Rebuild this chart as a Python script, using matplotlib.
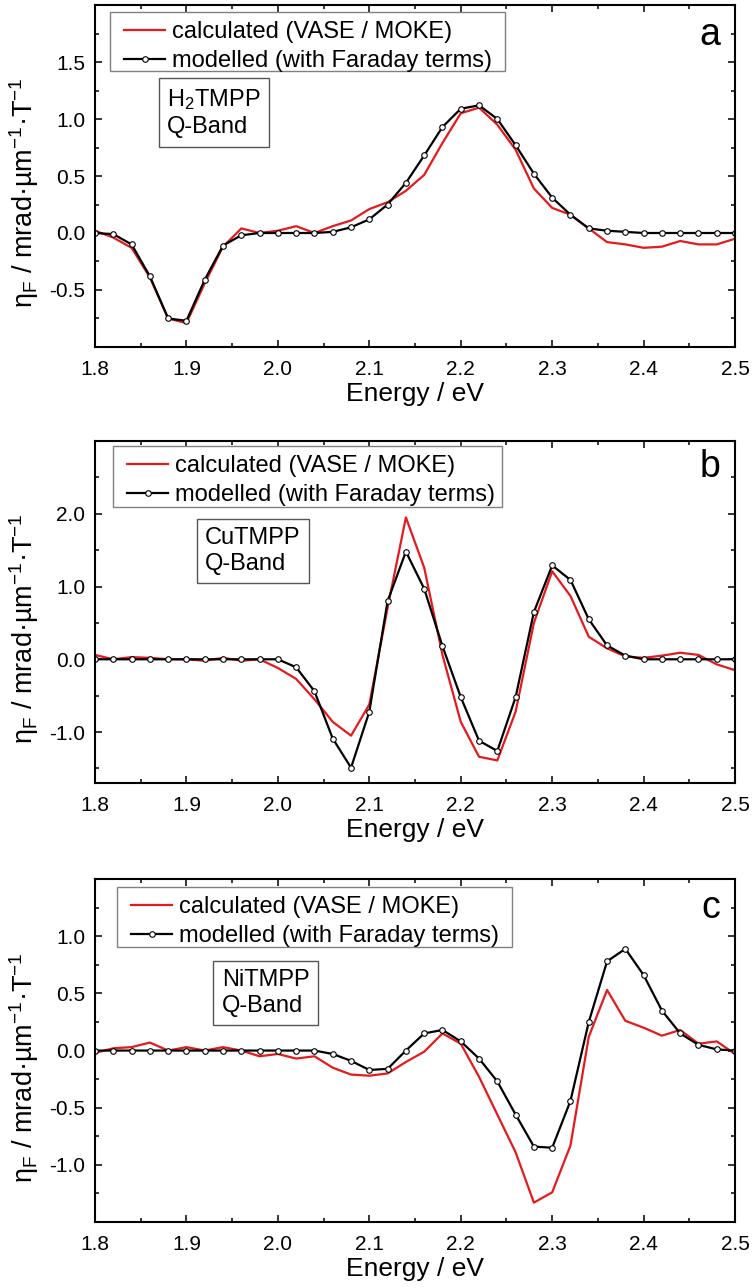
import matplotlib
matplotlib.use('Agg')
import matplotlib.pyplot as plt
from matplotlib.patches import Rectangle
from matplotlib.ticker import MultipleLocator

plt.rcParams['font.family'] = ['Liberation Sans', 'DejaVu Sans']
plt.rcParams['mathtext.fontset'] = 'custom'
plt.rcParams['mathtext.rm'] = 'Liberation Sans'
plt.rcParams['mathtext.it'] = 'Liberation Sans:italic'

## photon energy grid (eV)
energy = [1.80, 1.82, 1.84, 1.86, 1.88, 1.90, 1.92, 1.94, 1.96, 1.98,
          2.00, 2.02, 2.04, 2.06, 2.08, 2.10, 2.12, 2.14, 2.16, 2.18,
          2.20, 2.22, 2.24, 2.26, 2.28, 2.30, 2.32, 2.34, 2.36, 2.38,
          2.40, 2.42, 2.44, 2.46, 2.48, 2.50]

## panel a: H2TMPP
h2_calc = [0.02, -0.04, -0.13, -0.39, -0.75, -0.79, -0.44, -0.12, 0.04, 0.0,
           0.02, 0.06, 0.0, 0.06, 0.11, 0.21, 0.27, 0.37, 0.51, 0.79,
           1.05, 1.10, 0.95, 0.73, 0.39, 0.22, 0.16, 0.04, -0.08, -0.10,
           -0.13, -0.12, -0.07, -0.10, -0.10, -0.05]
h2_model = [0.0, -0.01, -0.10, -0.38, -0.75, -0.77, -0.41, -0.11, -0.02, 0.0,
            0.0, 0.0, 0.0, 0.01, 0.05, 0.12, 0.25, 0.44, 0.68, 0.93,
            1.09, 1.12, 1.00, 0.77, 0.52, 0.31, 0.16, 0.04, 0.02, 0.01,
            0.0, 0.0, 0.0, 0.0, 0.0, 0.0]

## panel b: CuTMPP
cu_calc = [0.06, 0.0, 0.03, 0.02, 0.0, 0.0, -0.02, 0.02, -0.02, 0.0,
           -0.12, -0.27, -0.55, -0.86, -1.05, -0.62, 0.71, 1.95, 1.26, 0.06,
           -0.86, -1.34, -1.39, -0.72, 0.50, 1.21, 0.87, 0.31, 0.15, 0.04,
           0.02, 0.05, 0.09, 0.06, -0.07, -0.15]
cu_model = [0.0, 0.0, 0.0, 0.0, 0.0, 0.0, 0.0, 0.0, 0.0, 0.0,
            0.0, -0.11, -0.44, -1.09, -1.49, -0.72, 0.80, 1.48, 0.97, 0.18,
            -0.52, -1.12, -1.26, -0.52, 0.65, 1.29, 1.09, 0.55, 0.19, 0.05,
            0.0, 0.0, 0.0, 0.0, 0.0, 0.0]

## panel c: NiTMPP
ni_calc = [-0.02, 0.02, 0.03, 0.07, 0.0, 0.03, 0.0, 0.03, 0.0, -0.05,
           -0.03, -0.07, -0.05, -0.15, -0.21, -0.22, -0.20, -0.10, -0.01, 0.15,
           0.06, -0.23, -0.56, -0.89, -1.33, -1.24, -0.83, 0.12, 0.53, 0.26,
           0.20, 0.13, 0.18, 0.06, 0.08, -0.03]
ni_model = [0.0, 0.0, 0.0, 0.0, 0.0, 0.0, 0.0, 0.0, 0.0, 0.0,
            0.0, 0.0, 0.0, -0.03, -0.09, -0.17, -0.16, 0.0, 0.15, 0.18,
            0.08, -0.07, -0.27, -0.56, -0.84, -0.85, -0.44, 0.25, 0.78, 0.89,
            0.66, 0.35, 0.15, 0.05, 0.01, 0.0]

calc_label = 'calculated (VASE / MOKE)'
model_label = 'modelled (with Faraday terms)'
ylabel = 'η$_\\mathrm{F}$ / mrad·µm$^\\mathrm{-1}$·T$^\\mathrm{-1}$'

panels = [
    # calc, model, ylim, major, minor, axes rect, legend box (x0, x1, ytop, ybot), box text, box xy, letter, letter y
    (h2_calc, h2_model, (-1.0, 2.0), 0.5, 0.25, [0.1257, 0.7306, 0.8466, 0.2655],
     (0.0234, 0.6406, 0.9795, 0.807), 'H$_\\mathrm{2}$TMPP\nQ-Band', (0.1125, 0.76), 'a', 0.912),
    (cu_calc, cu_model, (-1.7, 3.0), 1.0, 0.5, [0.1257, 0.3921, 0.8466, 0.2655],
     (0.0281, 0.636, 0.9854, 0.807), 'CuTMPP\nQ-Band', (0.172, 0.749), 'b', 0.924),
    (ni_calc, ni_model, (-1.5, 1.5), 0.5, 0.25, [0.1257, 0.0512, 0.8466, 0.2663],
     (0.0344, 0.6516, 0.9767, 0.8017), 'NiTMPP\nQ-Band', (0.198, 0.738), 'c', 0.915),
]

fig = plt.figure(figsize=(7.56, 12.88), dpi=100)

for calc, model, ylim, major, minor, rect, lbox, box_txt, box_xy, letter, let_y in panels:
    ax = fig.add_axes(rect)
    ax.plot(energy, calc, color='#e41a1c', lw=1.6, label=calc_label)
    ax.plot(energy, model, color='black', lw=1.6, marker='o', ms=4,
            mfc='white', mec='black', mew=0.8, label=model_label)

    ax.set_xlim(1.8, 2.5)
    ax.set_ylim(*ylim)
    ax.xaxis.set_major_locator(MultipleLocator(0.1))
    ax.xaxis.set_minor_locator(MultipleLocator(0.05))
    ax.yaxis.set_major_locator(MultipleLocator(major))
    ax.yaxis.set_minor_locator(MultipleLocator(minor))
    ax.xaxis.set_major_formatter(plt.FormatStrFormatter('%.1f'))
    ax.yaxis.set_major_formatter(plt.FormatStrFormatter('%.1f'))

    ## hide outermost y labels as in the original
    yt = [t for t in ax.get_yticks() if ylim[0] < t < ylim[1] - 1e-9]
    ax.set_yticks(yt)

    ax.tick_params(which='both', direction='in', top=True, right=True, labelsize=15)
    ax.tick_params(axis='x', which='major', pad=9.5)
    ax.tick_params(axis='y', which='major', pad=7)
    ax.tick_params(which='major', length=5, width=1.1)
    ax.tick_params(which='minor', length=3, width=1.1)
    for s in ax.spines.values():
        s.set_linewidth(1.5)

    ax.set_xlabel('Energy / eV', fontsize=19, labelpad=2)
    ax.set_ylabel(ylabel, fontsize=19.5)
    ax.yaxis.set_label_coords(-0.084, 0.45)

    ## legend frame drawn separately (Origin style: wide side padding)
    x0, x1, ytop, ybot = lbox
    ax.add_patch(Rectangle((x0, ybot), x1 - x0, ytop - ybot, transform=ax.transAxes,
                           fc='white', ec='#808080', lw=1.0, zorder=4))
    leg = ax.legend(loc='upper left', bbox_to_anchor=(x0 + 0.0125, ytop - 0.009),
                    fontsize=17, frameon=False, numpoints=1,
                    handlelength=1.75, handletextpad=0.3, borderpad=0.25,
                    labelspacing=0.3, borderaxespad=0)
    leg.set_zorder(5)

    ax.text(box_xy[0], box_xy[1], box_txt, transform=ax.transAxes, fontsize=17,
            ha='left', va='top', linespacing=1.25,
            bbox=dict(boxstyle='square,pad=0.35', fc='white', ec='#555555', lw=1.0))

    ax.text(0.977, let_y, letter, transform=ax.transAxes, fontsize=27,
            ha='right', va='center')

fig.savefig('out.png', dpi=100)
